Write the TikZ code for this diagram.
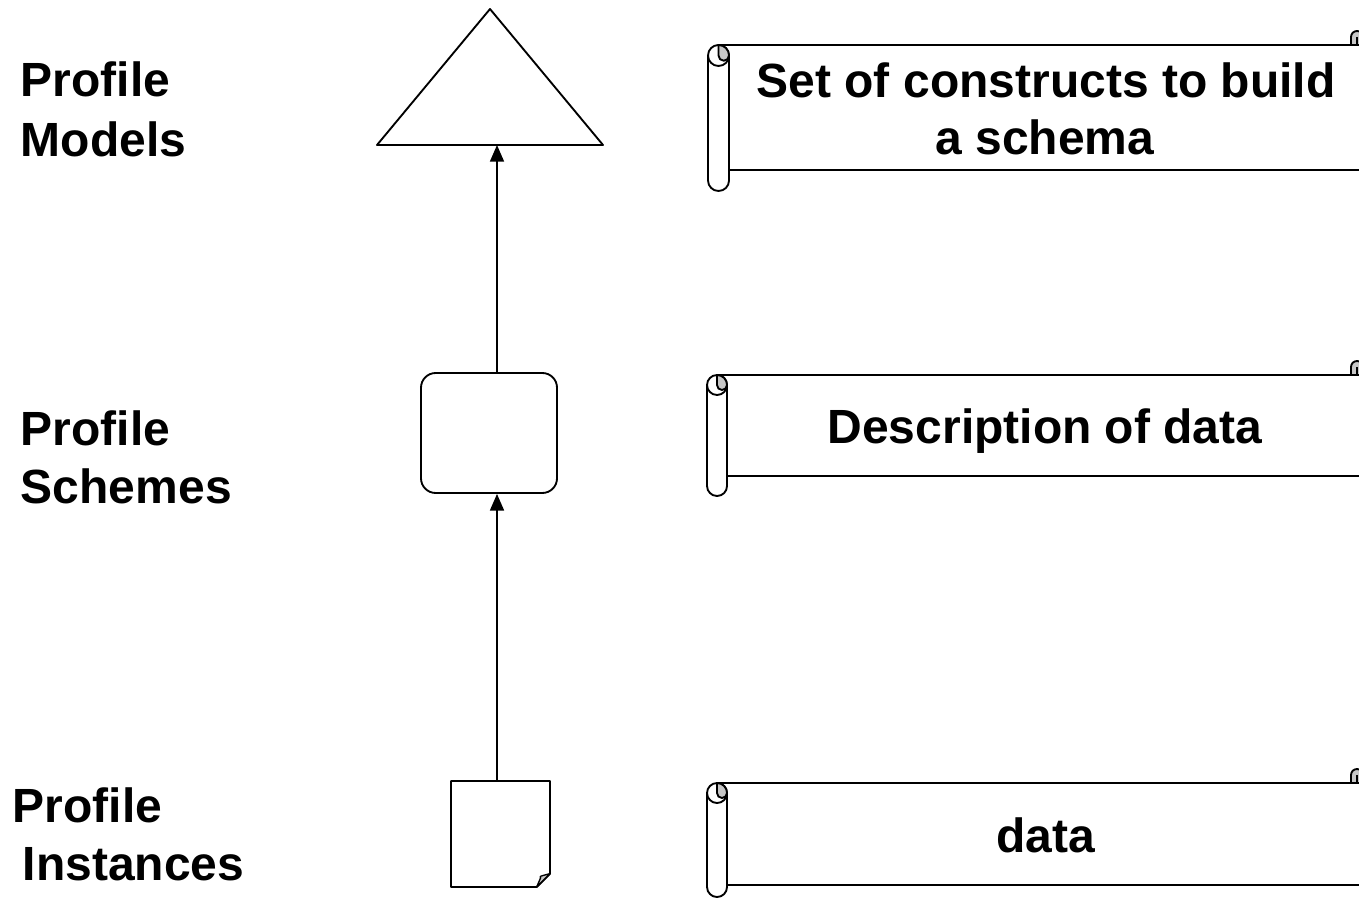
\documentclass[tikz,border=0pt]{standalone}
\usepackage{fontspec}
\setmainfont{Liberation Sans}
\usetikzlibrary{arrows.meta}

% banner with a rolled end on the left and a curl at the top right
% #1 left x, #2 top line y, #3 bottom line y, #4 roll width, #5 roll bottom y
\newcommand\scrollbanner[5]{%
  \pgfmathsetmacro\sL{#1}\pgfmathsetmacro\sT{#2}\pgfmathsetmacro\sB{#3}%
  \pgfmathsetmacro\sr{#4/2}\pgfmathsetmacro\sq{#4/4}%
  \pgfmathsetmacro\sM{#1+#4/2}\pgfmathsetmacro\sR{#1+#4}%
  \pgfmathsetmacro\sBot{#5}%
  \draw (\sM,\sT) -- (1351,\sT);
  \draw (\sR,\sB) -- (1370,\sB);
  \draw[fill=white] (\sL,\sT+\sr) -- (\sL,\sBot-\sr)
      arc[start angle=180,end angle=0,radius=\sr] -- (\sR,\sT+\sr);
  \draw[fill=white] (\sM,\sT+\sr) circle[radius=\sr];
  \draw[fill=curl] (\sM,\sT) -- (\sM,\sT+\sr)
      arc[start angle=180,end angle=0,radius=\sq]
      arc[start angle=0,end angle=-90,radius=\sr] -- cycle;
  \draw[fill=curl] (1351,\sT) -- (1351,\sT-8)
      arc[start angle=180,end angle=360,radius=6] -- (1363,\sT) -- cycle;
  \draw (1357,\sT-8) -- (1357,\sT);
}

\definecolor{curl}{gray}{0.78}

\begin{document}
\begin{tikzpicture}[x=0.75pt,y=-0.75pt,line width=1.4pt,line join=round,
  label/.style={font=\fontsize{36}{36}\selectfont\bfseries,inner sep=0pt},
  flow/.style={-{Triangle[length=12.5pt,width=10.5pt]},line width=1.3pt},
  hull/.style={draw=none,inner sep=0pt,outer sep=0pt}]
\useasboundingbox (0,0) rectangle (1359,898);
\clip (0,0) rectangle (1359,898);

% level labels
\node[label,anchor=base west] (pm1) at (20,97)  {Profile};
\node[label,anchor=base west] (pm2) at (20,157) {Models};
\node[label,anchor=base west] (ps1) at (20,445) {Profile};
\node[label,anchor=base west] (ps2) at (20,503) {Schemes};
\node[label,anchor=base west] (pi1) at (12,822) {Profile};
\node[label,anchor=base west] (pi2) at (22,880) {Instances};

% model: triangle
\node[hull,minimum width=226*0.75pt,minimum height=136*0.75pt] (model) at (490,77) {};
\draw[fill=white] (model.south west) -- (model.north) -- (model.south east) -- cycle;

% schema: rounded box
\node[draw,fill=white,rounded corners=11pt,minimum width=136*0.75pt,
      minimum height=120*0.75pt,inner sep=0pt] (schema) at (489,433) {};

% instance: page with folded corner
\node[hull,minimum width=99*0.75pt,minimum height=106*0.75pt] (inst) at (500.5,834) {};
\draw[fill=white] (inst.north west) -- (inst.north east) -- ([yshift=10pt]inst.south east)
   -- ([xshift=-10pt]inst.south east) -- (inst.south west) -- cycle;
\draw[fill=curl,line width=1pt] ([yshift=10pt]inst.south east)
   .. controls ([xshift=-8pt,yshift=8pt]inst.south east) .. ([xshift=-7pt,yshift=7pt]inst.south east)
   -- ([xshift=-10pt]inst.south east) -- cycle;

% arrows
\coordinate (axis) at (497,0);
\draw[flow] (schema.north -| axis) -- (model.south -| axis);
\draw[flow] (inst.north -| axis) -- (schema.south -| axis);

% banners
\scrollbanner{708}{45}{170}{21}{191}
\scrollbanner{707}{375}{476}{20}{496}
\scrollbanner{707}{783}{885}{20}{897}

\node[label,anchor=base] (d1a) at (1046,98)  {Set of constructs to build};
\node[label,anchor=base] (d1b) at (1045,155) {a schema};
\node[label,anchor=base] (d2)  at (1045,443) {Description of data};
\node[label,anchor=base] (d3)  at (1046,852) {data};
\end{tikzpicture}
\end{document}
